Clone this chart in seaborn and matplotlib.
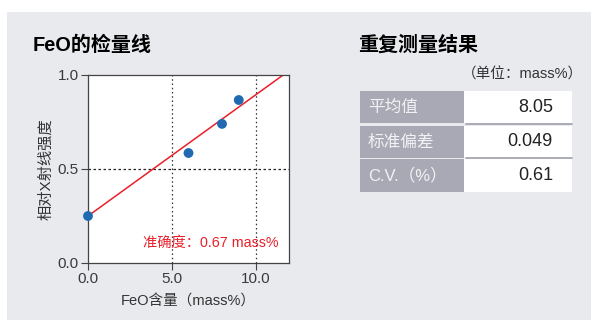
import matplotlib
matplotlib.use("Agg")
import matplotlib.pyplot as plt
from matplotlib.patches import Rectangle
import seaborn as sns
import pandas as pd

# Calibration data: FeO content vs. relative X-ray intensity
feo_content = [0.0, 6.0, 8.0, 9.0]
xray_intensity = [0.25, 0.585, 0.74, 0.867]

# Calibration line end points
fit_x = [0.0, 11.65]
fit_y = [0.25, 1.0]

x_ticks = [0.0, 5.0, 10.0]
y_ticks = [0.0, 0.5, 1.0]
x_tick_labels = ["0.0", "5.0", "10.0"]
y_tick_labels = ["0.0", "0.5", "1.0"]

accuracy_text = "准确度：0.67 mass%"

# Repeatability results table
stat_names = ["平均值", "标准偏差", "C.V.（%）"]
stat_values = ["8.05", "0.049", "0.61"]

sns.set_theme(style="white")
plt.rcParams["font.family"] = ["Liberation Sans", "Noto Sans CJK SC", "DejaVu Sans"]

W, H = 591, 320
fig = plt.figure(figsize=(W / 100, H / 100), dpi=100)
fig.patch.set_facecolor("white")


def fx(px):
    return px / W


def fy(py):
    return 1 - py / H


# light gray background panel
fig.patches.append(Rectangle((fx(7), fy(320)), fx(591 - 7), (320 - 12) / H,
                             transform=fig.transFigure, facecolor="#e9eaee",
                             edgecolor="none", zorder=-5))

# --- calibration plot ---
ax = fig.add_axes([fx(88), fy(263), fx(289 - 88), (263 - 75) / H])
ax.set_zorder(2)
ax.set_facecolor("white")
df = pd.DataFrame({"x": feo_content, "y": xray_intensity})
line_df = pd.DataFrame({"x": fit_x, "y": fit_y})

for v in x_ticks[1:]:
    ax.axvline(v, color="#333333", lw=0.9, ls=(0, (1.2, 2.2)), zorder=1)
ax.axhline(0.5, color="#222222", lw=0.9, ls=(0, (2, 2)), zorder=1)

sns.lineplot(data=line_df, x="x", y="y", ax=ax, color="#e8202a", lw=1.1, zorder=2)
sns.scatterplot(data=df, x="x", y="y", ax=ax, color="#1f6ab0", s=50,
                edgecolor="none", zorder=3, clip_on=False)

ax.set_xlim(0, 12)
ax.set_ylim(0, 1.0)
ax.set_xticks(x_ticks)
ax.set_xticklabels(x_tick_labels)
ax.set_yticks(y_ticks)
ax.set_yticklabels(y_tick_labels)
ax.tick_params(axis="both", direction="out", length=5, width=0.8, colors="#444444",
               labelsize=11, labelcolor="#3a3a3a", pad=1.5, bottom=True, left=True)
for s in ax.spines.values():
    s.set_color("#444444")
    s.set_linewidth(0.9)
ax.set_xlabel("FeO含量（mass%）", fontsize=10.5, color="#333333")
ax.set_ylabel("相对X射线强度", fontsize=11, color="#333333")
# label positions in pixel offsets from the axes box
ax.xaxis.set_label_coords(0.5, -(302 - 263) / 188, transform=ax.transAxes)
ax.yaxis.set_label_coords(-(88 - 46) / 201, 0.5, transform=ax.transAxes)
ax.xaxis.label.set_va("center")
ax.yaxis.label.set_va("center")
ax.text(11.4, 0.105, accuracy_text, color="#e8202a", fontsize=10.3,
        ha="right", va="center")

fig.text(fx(33), fy(45), "FeO的检量线", fontsize=14.4, fontweight="bold",
         color="black", ha="left", va="center")

# --- repeatability table ---
fig.text(fx(358), fy(45), "重复测量结果", fontsize=14.4, fontweight="bold",
         color="black", ha="left", va="center")
fig.text(fx(583), fy(75), "（单位：mass%）", fontsize=10.5, color="#333333",
         ha="right", va="center")

rows = [(91, 123), (126, 158), (159, 192)]
left_x0, left_x1, right_x1 = 360, 464, 572
for (y0, y1), name, val in zip(rows, stat_names, stat_values):
    fig.patches.append(Rectangle((fx(left_x0), fy(y1)), fx(left_x1 - left_x0), (y1 - y0) / H,
                                 transform=fig.transFigure, facecolor="#a9a9b5",
                                 edgecolor="none", zorder=1))
    fig.patches.append(Rectangle((fx(left_x1), fy(y1)), fx(right_x1 - left_x1), (y1 - y0) / H,
                                 transform=fig.transFigure, facecolor="white",
                                 edgecolor="none", zorder=1))
    fig.text(fx(368), fy((y0 + y1) / 2), name, fontsize=12, color="#f2f2f5",
             ha="left", va="center")
    fig.text(fx(553), fy((y0 + y1) / 2), val, fontsize=13, color="#222222",
             ha="right", va="center")
# thin separators under the value cells
for y in (124, 158):
    fig.lines.append(plt.Line2D([fx(left_x1 + 2), fx(right_x1)], [fy(y), fy(y)],
                                transform=fig.transFigure, color="#a0a0ac", lw=1.2))

fig.savefig("out.png", dpi=100)
